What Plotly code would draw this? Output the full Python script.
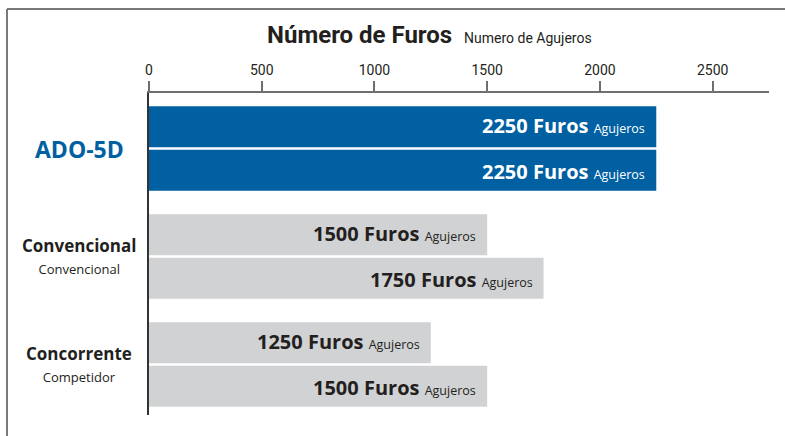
import plotly.graph_objects as go

categories = ["ADO-5D", "Convencional", "Concorrente"]
sub_labels = ["", "Convencional", "Competidor"]
series_a = [2250, 1500, 1250]
series_b = [2250, 1750, 1500]
tick_vals = [0, 500, 1000, 1500, 2000, 2500]

BLUE = "#0060A2"
GRAY = "#D1D2D4"
DARK = "#231F20"
bar_colors = [BLUE, GRAY, GRAY]

W, H = 785, 436
ML, MR, MT, MB = 149, 16, 93, 21
PW, PH = W - ML - MR, H - MT - MB

def px_x(p):
    return (p - ML) / PW

def px_y(p):
    return (H - MB - p) / PH

fig = go.Figure()
for vals in (series_a, series_b):
    fig.add_trace(go.Bar(
        y=categories, x=vals, orientation="h",
        marker=dict(color=bar_colors, line=dict(width=0)),
        hoverinfo="skip", showlegend=False,
    ))

font_main = "Open Sans, Noto Sans, sans-serif"
font_narrow = "Roboto, sans-serif"

annotations = []
for si, vals in enumerate((series_a, series_b)):
    shift = 23 if si == 0 else -23
    for ci, v in enumerate(vals):
        col = "white" if bar_colors[ci] == BLUE else DARK
        annotations.append(dict(
            x=v, y=categories[ci], xref="x", yref="y",
            xanchor="right", yanchor="middle", xshift=-9, yshift=shift,
            text=f"<b>{v} Furos</b> <span style='font-size:12.5px'>Agujeros</span>",
            showarrow=False, font=dict(family=font_main, size=20, color=col),
        ))

for ci, cat in enumerate(categories):
    if ci == 0:
        txt = f"<b>{cat}</b>"
        fnt = dict(family=font_main, size=23, color=BLUE)
    else:
        txt = f"<b>{cat}</b><br><span style='font-size:13px'>{sub_labels[ci]}</span>"
        fnt = dict(family=font_main, size=17, color=DARK)
    annotations.append(dict(
        x=0, y=cat, xref="paper", yref="y", xanchor="center", yanchor="middle",
        xshift=-70, text=txt, showarrow=False, align="center", font=fnt,
    ))

annotations.append(dict(
    x=px_x(429), y=px_y(35), xref="paper", yref="paper",
    xanchor="center", yanchor="middle", showarrow=False,
    text="<b>Número de Furos</b>  <span style='font-size:14px;font-weight:normal'>Numero de Agujeros</span>",
    font=dict(family=font_narrow, size=24, color=DARK),
))

shapes = [
    dict(type="line", xref="paper", yref="paper", x0=px_x(7), x1=px_x(790),
         y0=px_y(9), y1=px_y(9), line=dict(color="#7a7a7a", width=2)),
    dict(type="line", xref="paper", yref="paper", x0=px_x(7), x1=px_x(7),
         y0=px_y(9), y1=px_y(440), line=dict(color="#7a7a7a", width=2)),
]

fig.update_layout(
    width=W, height=H,
    margin=dict(l=ML, r=MR, t=MT, b=MB),
    paper_bgcolor="white", plot_bgcolor="white",
    barmode="group", bargap=0.194, bargroupgap=0.0575,
    annotations=annotations, shapes=shapes,
    xaxis=dict(
        side="top", range=[0, 2750], tickvals=tick_vals,
        ticks="outside", ticklen=10, tickwidth=1.5, tickcolor="#6d6e71",
        showline=True, linecolor="#6d6e71", linewidth=2,
        showgrid=False, zeroline=False,
        tickfont=dict(family=font_narrow, size=14, color=DARK),
    ),
    yaxis=dict(
        categoryorder="array", categoryarray=categories,
        range=[2.468, -0.514], showticklabels=False, ticks="",
        showline=True, linecolor="#333333", linewidth=1.5,
        showgrid=False, zeroline=False,
    ),
)

fig.write_html("out.html", config={"displayModeBar": False},
               post_script="document.body.style.margin='0px';")
